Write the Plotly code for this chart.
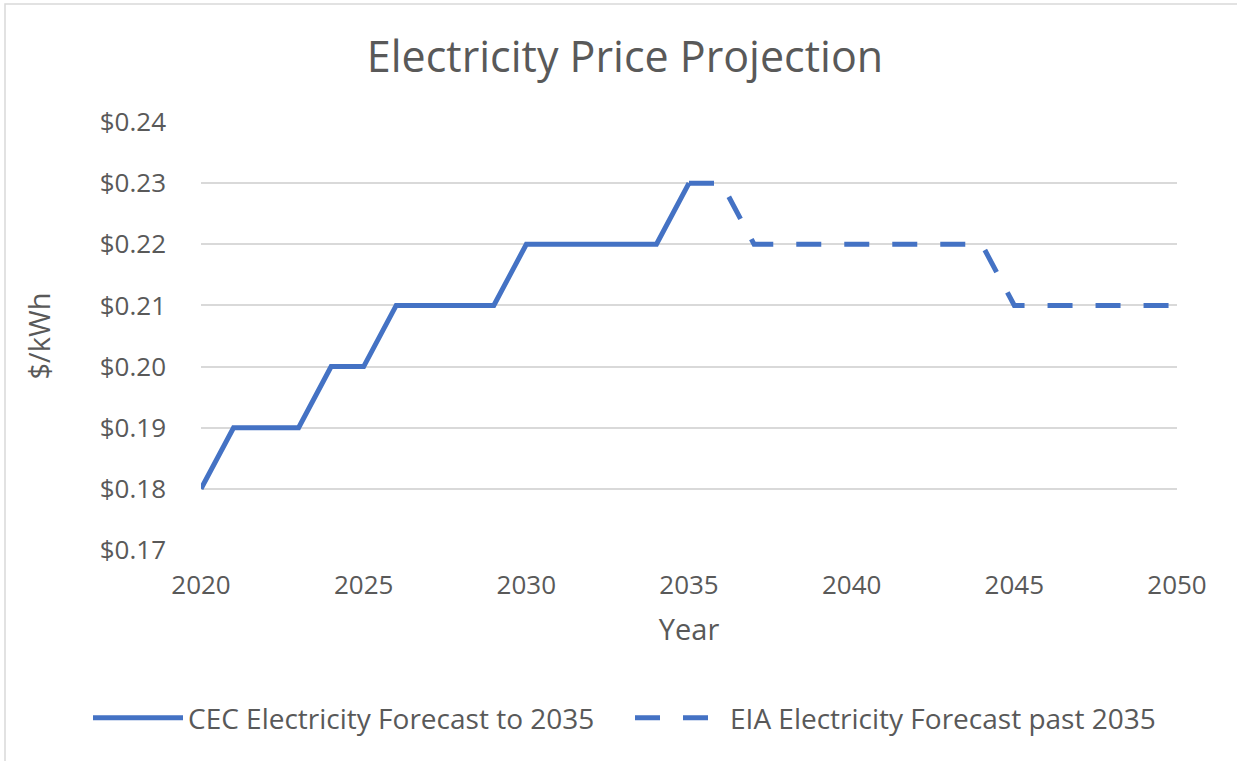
import plotly.graph_objects as go

cec_years = list(range(2020, 2036))
cec_price = [0.18, 0.19, 0.19, 0.19, 0.20, 0.20, 0.21, 0.21, 0.21, 0.21,
             0.22, 0.22, 0.22, 0.22, 0.22, 0.23]
eia_years = list(range(2035, 2051))
eia_price = [0.23, 0.23, 0.22, 0.22, 0.22, 0.22, 0.22, 0.22, 0.22, 0.22,
             0.21, 0.21, 0.21, 0.21, 0.21, 0.21]
x_ticks = [2020, 2025, 2030, 2035, 2040, 2045, 2050]
y_ticks = [0.17, 0.18, 0.19, 0.20, 0.21, 0.22, 0.23, 0.24]

FONT = "Open Sans"
TXT = "#595959"
BLUE = "#4472C4"

W, H = 1237, 761
L, R, T, B = 201, 60, 122, 211
PW, PH = W - L - R, H - T - B

fig = go.Figure()
fig.add_trace(go.Scatter(x=cec_years, y=cec_price, mode="lines",
                         name="CEC Electricity Forecast to 2035",
                         line=dict(color=BLUE, width=5), legend="legend"))
fig.add_trace(go.Scatter(x=eia_years, y=eia_price, mode="lines",
                         name="EIA Electricity Forecast past 2035",
                         line=dict(color=BLUE, width=5, dash="25px,23px"),
                         legend="legend2"))

leg_common = dict(orientation="h", xref="container", yref="container",
                  xanchor="left", yanchor="middle", y=1 - 718 / H,
                  font=dict(size=28, color=TXT), itemwidth=90,
                  bgcolor="rgba(0,0,0,0)")

fig.update_layout(
    width=W, height=H,
    paper_bgcolor="white", plot_bgcolor="white",
    margin=dict(l=L, r=R, t=T, b=B),
    font=dict(family=FONT, color=TXT),
    title=dict(text="Electricity Price Projection", x=625 / W, xanchor="center",
               y=1 - 57 / H, yanchor="middle",
               font=dict(size=43, color=TXT, family=FONT)),
    xaxis=dict(range=[2020, 2050], tickvals=x_ticks, showgrid=False,
               zeroline=False, showline=False, ticks="",
               tickfont=dict(size=26, color=TXT), ticklabelstandoff=17,
               title=dict(text="Year", font=dict(size=29, color=TXT), standoff=18)),
    yaxis=dict(range=[0.17, 0.24], tickvals=y_ticks, tickformat="$.2f",
               showgrid=True, gridcolor="#D9D9D9", gridwidth=1.5,
               zeroline=False, showline=False, ticks="",
               tickfont=dict(size=26, color=TXT), ticklabelstandoff=34,
               title=dict(text="$/kWh", font=dict(size=29, color=TXT), standoff=40)),
    showlegend=True,
    legend=dict(x=88 / W, **leg_common),
    legend2=dict(x=630 / W, **leg_common),
    shapes=[dict(type="rect", xref="paper", yref="paper",
                 x0=(5 - L) / PW, x1=(W + 20 - L) / PW,
                 y0=-(H + 20 - T - PH) / PH, y1=1 + (T - 4) / PH,
                 line=dict(color="#D9D9D9", width=1.5))],
)

fig.write_html("out.html", config={"displayModeBar": False},
               post_script="document.body.style.margin='0';")
